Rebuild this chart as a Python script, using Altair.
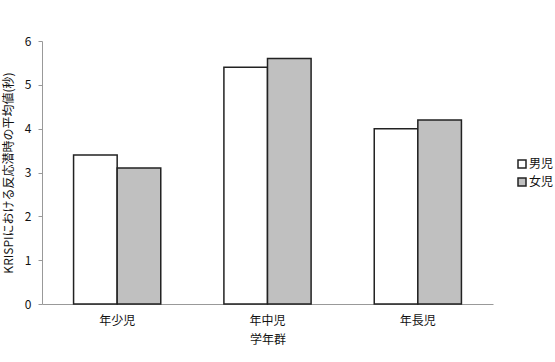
import altair as alt
import pandas as pd

groups = ["年少児", "年中児", "年長児"]
sexes = ["男児", "女児"]
male = [3.4, 5.4, 4.0]
female = [3.1, 5.6, 4.2]

rows = []
for g, m, f in zip(groups, male, female):
    rows.append({"学年群": g, "性別": "男児", "値": m})
    rows.append({"学年群": g, "性別": "女児", "値": f})
df = pd.DataFrame(rows)

FONT = "Noto Sans CJK JP"

chart = alt.Chart(df).mark_bar(stroke="#222222", strokeWidth=1.5).encode(
    x=alt.X("学年群:N", sort=groups,
            scale=alt.Scale(paddingInner=0.42, paddingOuter=0.21),
            axis=alt.Axis(title="学年群", labelAngle=0, ticks=False, labelPadding=11,
                          titlePadding=8, domainColor="#999999")),
    xOffset=alt.XOffset("性別:N", sort=sexes, scale=alt.Scale(paddingInner=0)),
    y=alt.Y("値:Q", scale=alt.Scale(domain=[0, 6]),
            axis=alt.Axis(title="KRISPIにおける反応潜時の平均値(秒)", values=[0, 1, 2, 3, 4, 5, 6],
                          grid=False, tickSize=4, tickColor="#999999", domainColor="#999999",
                          labelPadding=7, titlePadding=9, labelFontSize=12)),
    fill=alt.Fill("性別:N", sort=sexes,
                  scale=alt.Scale(domain=sexes, range=["#ffffff", "#c0c0c0"]),
                  legend=alt.Legend(title=None, orient="none", legendX=474, legendY=117,
                                    symbolType="square", symbolSize=64,
                                    symbolStrokeColor="#222222", symbolStrokeWidth=1.5,
                                    labelFontSize=12, rowPadding=4, labelOffset=1)),
).properties(
    width=451, height=263,
    padding={"left": 42, "top": 41, "right": 62, "bottom": 58},
    autosize=alt.AutoSizeParams(type="none"),
).configure_axis(
    labelFont=FONT, titleFont=FONT, labelFontSize=12, titleFontSize=12,
    labelColor="#111111", titleColor="#111111", titleFontWeight="normal",
).configure_legend(
    labelFont=FONT, labelColor="#111111"
).configure_view(stroke=None)

chart.save("out.html", embed_options={"renderer": "svg", "actions": False})
